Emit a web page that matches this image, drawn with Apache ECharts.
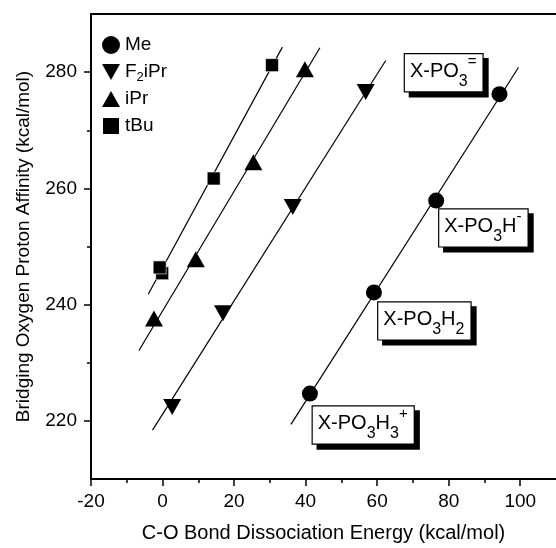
<!DOCTYPE html>
<html>
<head>
<meta charset="utf-8">
<script src="https://cdn.jsdelivr.net/npm/echarts@6/dist/echarts.min.js"></script>
<style>html,body{margin:0;padding:0;background:#fff;}#c{width:556px;height:548px;}</style>
</head>
<body>
<div id="c"></div>
<script>
// ---- data ----
var meData    = [[94.2, 276.2], [76.5, 257.9], [59.1, 242.1], [41.2, 224.7]];
var f2iprData = [[56.8, 276.6], [36.4, 256.8], [16.9, 238.5], [2.7, 222.4]];
var iprData   = [[39.8, 280.5], [25.4, 264.5], [9.3, 247.8], [-2.4, 237.6]];
var tbuData   = [[30.6, 281.2], [14.3, 261.7], [-0.1, 245.4], [-0.8, 246.4]];
// fitted line endpoints
var meLine    = [[35.9, 219.4], [99.5, 280.8]];
var f2iprLine = [[-2.8, 218.4], [62.4, 282.0]];
var iprLine   = [[-6.6, 232.1], [44.0, 284.2]];
var tbuLine   = [[-4.0, 241.8], [33.5, 284.3]];
// annotation labels
var boxLabels = ['{m|X-PO}{sub|3}{sup|=}', '{m|X-PO}{sub|3}{m|H}{sup|-}', '{m|X-PO}{sub|3}{m|H}{sub|2}', '{m|X-PO}{sub|3}{m|H}{sub|3}{sup|+}'];
var boxPos    = [[78.6, 279.9], [89.7, 253.2], [73.2, 237.2], [56.1, 219.3]];
var xTickLabels = [-20, 0, 20, 40, 60, 80, 100];
var xMinor      = [-10, 10, 30, 50, 70, 90];
var yTickLabels = [220, 240, 260, 280];
var yMinor      = [230, 250, 270];

var FONT = 'Liberation Sans, Arial, sans-serif';
var downTri = 'path://M0,0L10,0L5,9Z';
var upTri = 'path://M5,0L10,9L0,9Z';

var chart = echarts.init(document.getElementById('c'));
var X0 = -20, X1 = 110, Y0 = 210, Y1 = 290;

function lineSeries(d) {
  return {type: 'line', data: d, symbol: 'none', silent: true, lineStyle: {color: '#000', width: 1.2}, z: 1, legendHoverLink: false};
}

var boxData = boxPos.map(function (p, i) {
  return {value: p, label: {formatter: boxLabels[i]}};
});

var option = {
  animation: false,
  backgroundColor: '#fff',
  grid: {left: 91, top: 14, width: 466.6, height: 466},
  legend: {
    left: 96, top: 28, orient: 'vertical', itemGap: 3, itemWidth: 18, itemHeight: 18,
    textStyle: {fontFamily: FONT, fontSize: 19, color: '#000', lineHeight: 24,
      rich: {a: {fontFamily: FONT, fontSize: 19, color: '#000', lineHeight: 24},
             s: {fontFamily: FONT, fontSize: 13, color: '#000', verticalAlign: 'bottom', lineHeight: 1}}},
    formatter: function (n) { return n === 'F2iPr' ? '{a|F}{s|2}{a|iPr}' : n; },
    data: [
      {name: 'Me', icon: 'circle', itemStyle: {color: '#000'}},
      {name: 'F2iPr', icon: downTri},
      {name: 'iPr', icon: upTri},
      {name: 'tBu', icon: 'rect'}
    ]
  },
  xAxis: [
    {type: 'value', min: X0, max: X1, interval: 10, position: 'bottom',
      axisLine: {onZero: false, lineStyle: {color: '#000', width: 2}},
      axisTick: {customValues: xTickLabels, length: 7, lineStyle: {color: '#000', width: 1.5}},
      axisLabel: {customValues: xTickLabels, margin: 13, color: '#000', fontFamily: FONT, fontSize: 19},
      splitLine: {show: false},
      name: 'C-O Bond Dissociation Energy (kcal/mol)', nameLocation: 'middle', nameGap: 44,
      nameTextStyle: {color: '#000', fontFamily: FONT, fontSize: 20}},
    {type: 'value', min: X0, max: X1, interval: 10, position: 'bottom',
      axisLine: {show: false, onZero: false},
      axisTick: {customValues: xMinor, length: 4, lineStyle: {color: '#000', width: 1.5}},
      axisLabel: {show: false}, splitLine: {show: false}},
    {type: 'value', min: X0, max: X1, interval: 10, position: 'top',
      axisLine: {onZero: false, lineStyle: {color: '#000', width: 2}}, axisTick: {show: false},
      axisLabel: {show: false}, splitLine: {show: false}}
  ],
  yAxis: [
    {type: 'value', min: Y0, max: Y1, interval: 10, position: 'left',
      axisLine: {show: true, onZero: false, lineStyle: {color: '#000', width: 2}},
      axisTick: {show: true, customValues: yTickLabels, length: 7, lineStyle: {color: '#000', width: 1.5}},
      axisLabel: {customValues: yTickLabels, margin: 14, color: '#000', fontFamily: FONT, fontSize: 19},
      splitLine: {show: false},
      name: 'Bridging Oxygen Proton Affinity (kcal/mol)', nameLocation: 'middle', nameGap: 58,
      nameTextStyle: {color: '#000', fontFamily: FONT, fontSize: 19}},
    {type: 'value', min: Y0, max: Y1, interval: 10, position: 'left',
      axisLine: {show: false, onZero: false},
      axisTick: {show: true, customValues: yMinor, length: 4, lineStyle: {color: '#000', width: 1.5}},
      axisLabel: {show: false}, splitLine: {show: false}}
  ],
  series: [
    lineSeries(meLine), lineSeries(f2iprLine), lineSeries(iprLine), lineSeries(tbuLine),
    {name: 'Me', type: 'scatter', data: meData, symbol: 'circle', symbolSize: 16, itemStyle: {color: '#000', opacity: 1}, z: 3},
    {name: 'F2iPr', type: 'scatter', data: f2iprData, symbol: downTri, symbolSize: [18, 16], itemStyle: {color: '#000', opacity: 1}, z: 3},
    {name: 'iPr', type: 'scatter', data: iprData, symbol: upTri, symbolSize: [18, 16], itemStyle: {color: '#000', opacity: 1}, z: 3},
    {name: 'tBu', type: 'scatter', data: tbuData, symbol: 'rect', symbolSize: 13, itemStyle: {color: '#000', opacity: 1, borderColor: '#fff', borderWidth: 0.6}, z: 3},
    {type: 'scatter', data: boxData, symbol: 'rect', symbolSize: 1, silent: true, itemStyle: {color: 'rgba(0,0,0,0)', opacity: 1}, z: 5,
      label: {show: true, position: 'inside', opacity: 1, backgroundColor: '#fff', borderColor: '#000', borderWidth: 1.2,
        padding: [0, 6, 2, 5], shadowColor: '#000', shadowOffsetX: 5, shadowOffsetY: 5, shadowBlur: 0,
        rich: {
          m: {fontFamily: FONT, fontSize: 20, color: '#000', lineHeight: 35, verticalAlign: 'middle'},
          sub: {fontFamily: FONT, fontSize: 16, color: '#000', verticalAlign: 'bottom', lineHeight: 1},
          sup: {fontFamily: FONT, fontSize: 15, color: '#000', verticalAlign: 'top', lineHeight: 1}
        }}}
  ]
};
chart.setOption(option);
</script>
</body>
</html>
